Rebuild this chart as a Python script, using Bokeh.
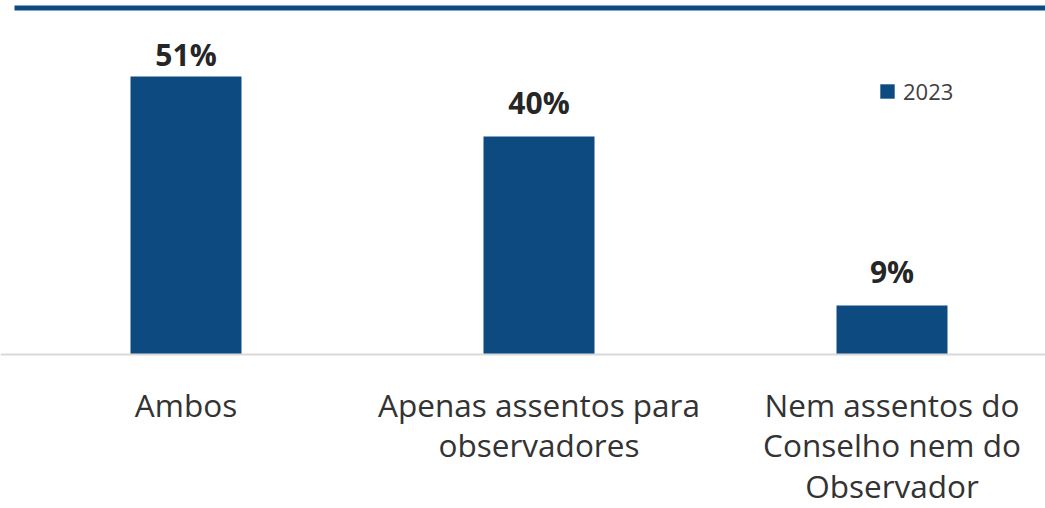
from bokeh.plotting import figure
from bokeh.models import ColumnDataSource, Range1d, Span, BoxAnnotation, Legend, LegendItem
from bokeh.core.properties import value
from bokeh.embed import file_html
from bokeh.resources import INLINE

categories = ["Ambos", "Apenas assentos para\nobservadores", "Nem assentos do\nConselho nem do\nObservador"]
values = [51, 40, 9]
value_labels = ["51%", "40%", "9%"]
series_name = "2023"

BAR = "#0d4a80"
W, H = 1045, 508
px_per_unit = 5.45
base_px = 354
spacing = 353.0
first_center = 185.5  # px from frame left

# label placement: 22px above bar, but kept inside the plot area (Excel-like clamp)
label_gap = 22
label_min_bottom = 66
offset_bias = 12
label_offsets = []
for v in values:
    bar_top = base_px - v * px_per_unit
    bottom = max(bar_top - label_gap, label_min_bottom)
    label_offsets.append(-(bar_top - bottom) - offset_bias)

x_pos = list(range(len(categories)))
src = ColumnDataSource(dict(x=x_pos, top=values, cat=categories, lab=value_labels, yo=label_offsets))

x_start = -first_center / spacing
x_end = (W - first_center) / spacing
y_end = base_px / px_per_unit
y_start = -(H - base_px) / px_per_unit

p = figure(width=W, height=H, output_backend="svg", toolbar_location=None,
           x_range=Range1d(x_start, x_end), y_range=Range1d(y_start, y_end),
           min_border=0, min_border_left=0, min_border_right=0, min_border_top=0, min_border_bottom=0)
p.xaxis.visible = False
p.yaxis.visible = False
p.xgrid.visible = False
p.ygrid.visible = False
p.outline_line_color = None
p.background_fill_color = "white"
p.border_fill_color = "white"

# top rule
p.add_layout(BoxAnnotation(left=x_start + 14 / spacing, right=x_end,
                           top=y_end - 5 / px_per_unit, bottom=y_end - 10 / px_per_unit,
                           fill_color=BAR, fill_alpha=1, line_color=None))
# baseline
p.add_layout(Span(location=0, dimension="width", line_color="#d9d9d9", line_width=2))

bars = p.vbar(x="x", top="top", bottom=0, width=111 / spacing, source=src,
              fill_color=BAR, line_color=None)

p.text(x="x", y="top", text="lab", source=src, text_align="center", text_baseline="alphabetic",
       y_offset="yo", text_font=value("Open Sans"), text_font_style="bold",
       text_font_size="30px", text_color="#262626")

p.text(x="x", y=0, text="cat", source=src, text_align="center", text_baseline="top",
       y_offset=28, text_font=value("Open Sans"), text_font_size="31.5px",
       text_color="#333333", text_line_height=0.945)

legend = Legend(items=[LegendItem(label=series_name, renderers=[bars])],
                location=(878, 402), orientation="vertical",
                glyph_width=18, glyph_height=18, label_standoff=7,
                label_text_font="Open Sans", label_text_font_size="22px",
                label_text_color="#404040", padding=0, margin=0,
                border_line_color=None, background_fill_alpha=0)
p.add_layout(legend)

open("out.html", "w").write(file_html(p, INLINE))
